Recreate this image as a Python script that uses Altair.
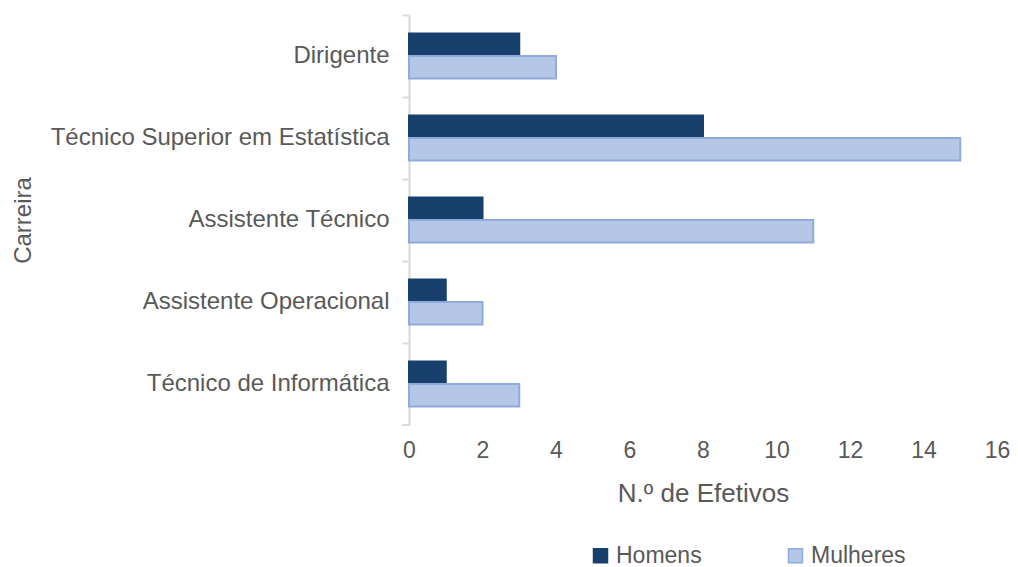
import altair as alt
import pandas as pd

categorias = ["Dirigente", "Técnico Superior em Estatística", "Assistente Técnico",
              "Assistente Operacional", "Técnico de Informática"]
homens = [3, 8, 2, 1, 1]
mulheres = [4, 15, 11, 2, 3]
series = ["Homens", "Mulheres"]
x_ticks = [0, 2, 4, 6, 8, 10, 12, 14, 16]

rows = []
for c, h, m in zip(categorias, homens, mulheres):
    rows.append({"Carreira": c, "Sexo": "Homens", "Valor": h})
    rows.append({"Carreira": c, "Sexo": "Mulheres", "Valor": m})
df = pd.DataFrame(rows)

FONT = "Liberation Sans"
TXT = "#595959"
W, H = 588, 410

bars = alt.Chart(df).mark_bar(strokeWidth=2).encode(
    y=alt.Y("Carreira:N", sort=categorias, title="Carreira",
            scale=alt.Scale(paddingInner=0.45, paddingOuter=0.225),
            axis=alt.Axis(bandPosition=-0.409, domainColor="#D9D9D9", domainWidth=2,
                          tickColor="#D9D9D9", tickWidth=2, tickSize=7,
                          labelPadding=13, labelFontSize=24, labelColor=TXT, labelFont=FONT,
                          titleFontSize=24, titleColor=TXT, titleFont=FONT, titleFontWeight="normal",
                          titleX=-386, titleY=H / 2, titleAngle=270, titleAlign="center",
                          titleBaseline="middle", labelLimit=500)),
    yOffset=alt.YOffset("Sexo:N", sort=series),
    x=alt.X("Valor:Q", title="N.º de Efetivos",
            scale=alt.Scale(domain=[0, 16], nice=False),
            axis=alt.Axis(values=x_ticks, grid=False, domain=False, ticks=False,
                          labelFlush=False, labelOverlap=False,
                          labelPadding=14, labelFontSize=23, labelColor=TXT, labelFont=FONT,
                          titleFontSize=26, titleColor=TXT, titleFont=FONT, titleFontWeight="normal",
                          titleX=W / 2, titleY=68, titleAlign="center", titleBaseline="middle")),
    color=alt.Color("Sexo:N", sort=series,
                    scale=alt.Scale(domain=series, range=["#17406D", "#B4C7E7"]),
                    legend=alt.Legend(title=None, orient="none", direction="horizontal",
                                      legendX=180, legendY=529, symbolType="square",
                                      symbolSize=196, symbolStrokeWidth=1.5,
                                      labelFontSize=23, labelColor=TXT, labelFont=FONT,
                                      columnPadding=82, labelOffset=4)),
    stroke=alt.Stroke("Sexo:N", sort=series,
                      scale=alt.Scale(domain=series, range=["#17406D", "#8FAADC"]),
                      legend=None),
)

bottom_tick = alt.Chart(pd.DataFrame({"a": [0]})).mark_rule(color="#D9D9D9", strokeWidth=2).encode(
    x=alt.value(-7), x2=alt.value(0), y=alt.value(H)
)

chart = alt.layer(bars, bottom_tick).properties(
    width=W, height=H, background="white",
    autosize=alt.AutoSizeParams(type="none"),
    padding={"left": 401, "top": 7, "right": 13, "bottom": 141}
).configure_view(stroke=None)

chart.save("out.html", embed_options={"renderer": "svg", "actions": False})
